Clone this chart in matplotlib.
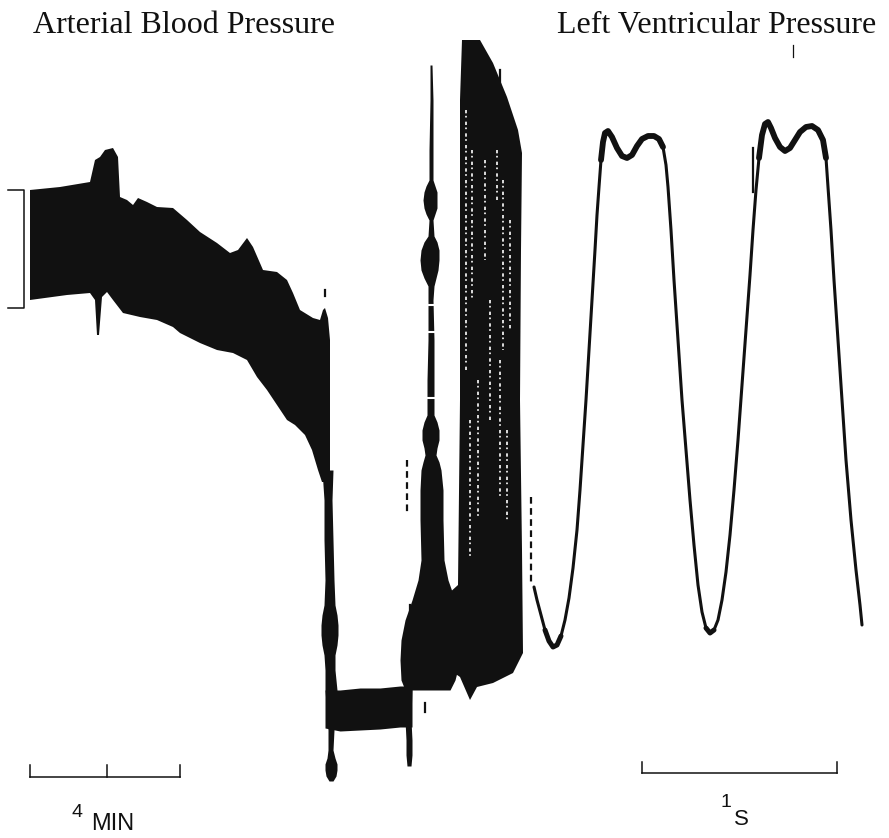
import matplotlib.pyplot as plt
import numpy as np

# trace outlines (pixel units, y grows downward)
ink = '#111111'

# arterial band, upper and lower envelope
band_top_x = [30, 60, 90, 95, 100, 105, 113, 118, 120, 127, 133, 138, 147, 157, 173, 187, 200, 217, 230, 238,
              247, 253, 263, 277, 287, 293, 300, 313, 320, 323, 325, 328, 330]
band_top_y = [190, 187, 182, 160, 157, 150, 148, 157, 197, 200, 205, 198, 202, 207, 208, 220, 232, 243, 253, 250,
              238, 247, 270, 272, 280, 293, 310, 318, 320, 310, 308, 318, 340]
band_bot_x = [30, 67, 90, 95, 97, 99, 102, 107, 113, 123, 140, 157, 173, 180, 200, 217, 233, 247, 257, 267,
              287, 295, 305, 312, 318, 322, 330]
band_bot_y = [300, 295, 293, 300, 335, 335, 297, 292, 300, 313, 317, 320, 327, 333, 343, 350, 353, 360, 377, 390,
              420, 425, 435, 450, 470, 482, 482]

# thin vertical trace where pressure falls
drop_y = [470, 500, 540, 580, 605, 615, 625, 635, 645, 655, 670, 690, 730, 750, 758, 764, 770, 776, 781]
drop_l = [322, 324, 324, 325, 324, 322, 321, 321, 322, 324, 325, 325, 328, 328, 327, 325, 325, 326, 329]
drop_r = [333, 332, 333, 334, 335, 337, 338, 338, 337, 335, 335, 337, 334, 333, 335, 337, 337, 336, 333]

# low plateau
low_x = [325, 340, 360, 380, 400, 412]
low_top = [690, 690, 688, 688, 686, 686]
low_bot = [728, 731, 730, 729, 727, 727]

low_edge_y = [686, 720, 740, 755, 766]
low_edge_l = [404, 405, 406, 406, 407]
low_edge_r = [412, 411, 412, 412, 411]

# recovering trace
rise_y = [65, 100, 150, 180, 186, 192, 200, 208, 214, 220, 236, 242, 250, 260, 270, 278, 286, 300, 340, 380,
          415, 422, 430, 440, 448, 455, 462, 470, 490, 520, 560, 580, 600, 620, 640, 660, 680, 690]
rise_l = [430, 430, 429, 429, 426, 424, 423, 424, 426, 429, 428, 424, 421, 420, 421, 424, 428, 428, 428, 427,
          427, 424, 422, 422, 424, 425, 423, 421, 420, 420, 421, 418, 412, 405, 401, 400, 401, 405]
rise_r = [432, 433, 433, 433, 435, 437, 437, 437, 435, 433, 434, 437, 439, 439, 438, 436, 434, 433, 434, 434,
          434, 437, 439, 439, 437, 436, 439, 441, 443, 443, 444, 448, 455, 460, 462, 460, 455, 450]
rise_gaps = [(430, 305), (430, 332), (431, 398)]

# dense block of large pulses
block_x = [462, 480, 493, 507, 518, 522, 521, 520, 522, 523, 513, 493, 477, 470, 460, 450, 447, 458, 460, 460]
block_y = [40, 40, 63, 97, 130, 153, 250, 400, 550, 653, 673, 683, 687, 700, 677, 670, 595, 585, 400, 100]
streak_x = [466, 472, 485, 497, 503, 510, 490, 478, 500, 470, 507]
streak_y0 = [110, 150, 160, 150, 180, 220, 300, 380, 360, 420, 430]
streak_y1 = [370, 300, 260, 200, 350, 330, 420, 520, 500, 560, 520]

# small artifacts (x, y0, y1, dotted)
marks = [(407, 460, 512, True), (410, 605, 637, False), (425, 703, 712, False), (500, 70, 85, False),
         (325, 290, 296, False), (753, 148, 192, False), (531, 497, 583, True)]

# left ventricular pressure trace
lvp_x = [534, 537, 541, 545, 549, 553, 557, 561, 565, 569, 573, 577, 580, 583, 586, 589, 592, 595, 597, 599,
         601, 603, 605, 608, 612, 617, 622, 627, 632, 637, 642, 648, 654, 659, 663, 666, 668, 671, 674, 678,
         682, 686, 690, 694, 698, 702, 706, 710, 714, 718, 722, 726, 730, 734, 738, 742, 746, 750, 753, 756,
         759, 762, 765, 768, 771, 775, 780, 785, 790, 795, 800, 806, 812, 818, 823, 826, 828, 831, 834, 838,
         842, 846, 851, 856, 860, 862]
lvp_y = [587, 600, 615, 630, 641, 647, 645, 636, 620, 598, 568, 530, 490, 445, 400, 350, 300, 250, 215, 187,
         160, 142, 133, 131, 137, 148, 156, 158, 155, 146, 139, 136, 136, 139, 147, 165, 187, 230, 280, 340,
         400, 450, 500, 545, 585, 612, 628, 633, 630, 620, 600, 572, 535, 490, 440, 385, 330, 275, 230, 190,
         158, 135, 124, 122, 128, 138, 147, 151, 148, 140, 132, 127, 126, 130, 140, 158, 187, 230, 280, 340,
         400, 460, 520, 570, 605, 625]

fig = plt.figure(figsize=(8.89, 8.38), dpi=100)
ax = fig.add_axes([0, 0, 1, 1])
ax.set_xlim(0, 889)
ax.set_ylim(838, 0)
ax.axis('off')

# arterial band
ax.fill(band_top_x + band_bot_x[::-1], band_top_y + band_bot_y[::-1], color=ink, lw=0)
ax.fill_betweenx(drop_y, drop_l, drop_r, color=ink, lw=0)
ax.fill_between(low_x, low_top, low_bot, color=ink, lw=0)
ax.fill_betweenx(low_edge_y, low_edge_l, low_edge_r, color=ink, lw=0)
ax.fill_betweenx(rise_y, rise_l, rise_r, color=ink, lw=0)
for gx, gy in rise_gaps:
    ax.plot([gx - 4, gx + 4], [gy, gy], color='white', lw=1.5)

ax.fill(block_x, block_y, color=ink, lw=0)
for sx, s0, s1 in zip(streak_x, streak_y0, streak_y1):
    ax.plot([sx, sx], [s0, s1], color='white', lw=1.2, ls=(0, (2, 1.5, 1, 2.5)))

for mx, m0, m1, dotted in marks:
    ax.plot([mx, mx], [m0, m1], color=ink, lw=1.6, ls=(0, (3, 2)) if dotted else '-')
ax.plot([793, 793], [45, 57], color=ink, lw=0.9)

# LVP
lx = np.array(lvp_x)
ly = np.array(lvp_y)
ax.plot(lx, ly, color=ink, lw=2.2, solid_capstyle='round')
top = ly < 165
ax.plot(np.where(top, lx, np.nan), np.where(top, ly, np.nan), color=ink, lw=4.2, solid_capstyle='round')
bot = ly > 620
ax.plot(np.where(bot, lx, np.nan), np.where(bot, ly, np.nan), color=ink, lw=3.6, solid_capstyle='round')

# calibration bracket
ax.plot([8, 24, 24, 8], [190, 190, 308, 308], color=ink, lw=1.1)

# time bars
ax.plot([30, 180], [777, 777], color=ink, lw=1.1)
for tx in [30, 107, 180]:
    ax.plot([tx, tx], [765, 777], color=ink, lw=1.1)
ax.plot([642, 837], [773, 773], color=ink, lw=1.1)
for tx in [642, 837]:
    ax.plot([tx, tx], [762, 773], color=ink, lw=1.1)

serif = ['Liberation Serif', 'DejaVu Serif']
sans = ['Liberation Sans', 'DejaVu Sans']
ax.text(33, 33, 'Arterial Blood Pressure', family=serif, fontsize=23, color=ink, va='baseline', ha='left')
ax.text(557, 33, 'Left Ventricular Pressure', family=serif, fontsize=23, color=ink, va='baseline', ha='left')
ax.text(72, 817, '4', family=sans, fontsize=14, color=ink, va='baseline')
ax.text(91, 830, 'MIN', family=sans, fontsize=17, color=ink, va='baseline')
ax.text(721, 807, '1', family=sans, fontsize=14, color=ink, va='baseline')
ax.text(734, 825, 'S', family=sans, fontsize=16, color=ink, va='baseline')

fig.savefig('out.png', dpi=100, facecolor='white')
